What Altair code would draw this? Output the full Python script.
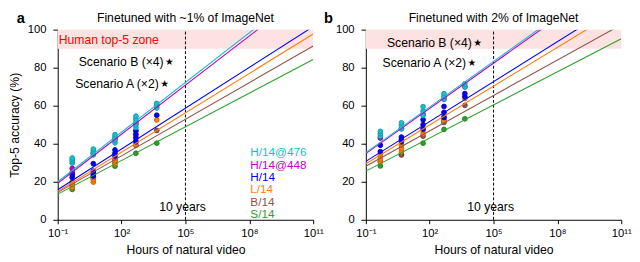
import altair as alt
import pandas as pd

FONT = "Liberation Sans"

# ---------------- data ----------------
models = ["S/14", "B/14", "L/14", "H/14", "H/14@448", "H/14@476"]
fill_colors = ["#2ca02c", "#8c564b", "#ff7f0e", "#0000ff", "#bf00bf", "#17becf"]
edge_colors = ["#1b7a1b", "#65382f", "#d06000", "#0000b0", "#8a008a", "#0f9aa8"]

hours = [0.48, 4.7, 49, 470, 4500]

# panel a (~1% of ImageNet): accuracy clusters at each hours value
acc_a_s14 = [[16.0], [22.0], [28.2], [35.0], [40.3]]
acc_a_b14 = [[18.0, 19.5], [22.5, 24.0], [30.0, 31.5], [39.2], [47.0]]
acc_a_l14 = [[17.0, 18.5, 20.0], [19.8, 21.0, 22.2], [29.5, 31.0, 32.2], [39.5, 41.5, 44.0, 46.5], [52.5]]
acc_a_h14 = [[22.2, 23.5, 24.8], [23.0, 24.5, 25.6, 29.5], [33.5, 35.0, 36.7], [41.0, 43.0, 45.0, 46.9], [55.0]]
acc_a_h448 = [[27.0], [35.0], [42.5], [50.5], [60.0]]
acc_a_h476 = [[29.8, 30.8, 31.6, 32.5], [34.1, 35.2, 36.2, 37.2], [40.5, 42.0, 43.5, 44.8],
              [48.5, 50.0, 51.5, 53.0, 54.5], [58.8, 60.3, 61.2]]

# panel b (2% of ImageNet)
acc_b_s14 = [[28.3], [34.4], [40.3], [47.5], [53.1]]
acc_b_b14 = [[30.6], [34.1], [44.0], [51.2, 52.6], [60.2]]
acc_b_l14 = [[30.5, 32.0, 33.5, 34.5], [35.8, 37.5, 39.2], [45.2, 47.0], [52.0, 54.5], [63.8]]
acc_b_h14 = [[35.8, 39.2], [41.0, 42.3, 43.5], [47.7, 50.0, 52.6], [53.8, 56.5, 59.6], [64.8, 66.4]]
acc_b_h448 = [[43.0], [48.0], [55.5], [63.5], [70.0]]
acc_b_h476 = [[44.0, 45.2, 46.5], [47.8, 49.5, 51.0], [54.8, 57.2, 59.5], [63.5, 65.0, 66.3], [69.8, 71.5]]

# fitted lines: accuracy at the two ends of the x range
line_hours = [0.1, 1e11]
fit_a = {"S/14": [13.5, 84.3], "B/14": [14.4, 91.4], "L/14": [14.9, 97.7],
         "H/14": [15.8, 101.6], "H/14@448": [19.2, 122.5], "H/14@476": [20.0, 124.5]}
fit_b = {"S/14": [25.6, 95.2], "B/14": [28.2, 102.6], "L/14": [29.5, 111.1],
         "H/14": [30.7, 114.7], "H/14@448": [34.8, 130.0], "H/14@476": [35.3, 131.3]}

# text legend (panel a)
legend_models = ["H/14@476", "H/14@448", "H/14", "L/14", "B/14", "S/14"]
legend_acc = [35.8, 29.0, 22.4, 16.1, 9.5, 3.0]
legend_hours = 1.12e8

# scenarios
scen_labels = ["Scenario B (\u00d74)", "Scenario A (\u00d72)"]
scen_a_hours = [1.78e4, 1.05e4]
scen_a_acc = [83.2, 71.5]
scen_b_hours = [1.8e4, 9.7e3]
scen_b_acc = [93.0, 82.5]
star_glyph = "\u2605"

# human zone & 10 years
zone_lo, zone_hi = 90, 100
human_label = "Human top-5 zone"
human_acc = 94.5
ten_years_hours = 1e5
ten_years_label = "10 years"
ten_years_acc = 6.8

x_ticks = [0.1, 100, 1e5, 1e8, 1e11]
x_tick_labels = ["10\u207b\u00b9", "10\u00b2", "10\u2075", "10\u2078", "10\u00b9\u00b9"]
y_ticks = [0, 20, 40, 60, 80, 100]

titles = ["Finetuned with ~1% of ImageNet", "Finetuned with 2% of ImageNet"]
letters = ["a", "b"]

# ---------------- chart ----------------
W, H = 262, 195

expr = f"'{x_tick_labels[-1]}'"
for v, l in reversed(list(zip(x_ticks[:-1], x_tick_labels[:-1]))):
    expr = f"datum.value <= {v * 1.5} ? '{l}' : ({expr})"

xscale = alt.Scale(type="log", domain=[0.1, 1e11])
yscale = alt.Scale(domain=[0, 100])
xaxis = alt.Axis(values=x_ticks, labelExpr=expr, tickSize=4, labelPadding=4,
                 titlePadding=5, grid=False, labelFlush=False)
yaxis = alt.Axis(values=y_ticks, tickSize=5, labelPadding=7, titlePadding=6, grid=False)

fill_scale = alt.Scale(domain=models, range=fill_colors)
edge_scale = alt.Scale(domain=models, range=edge_colors)


def X(f="x"):
    return alt.X(f"{f}:Q", scale=xscale, axis=xaxis, title="Hours of natural video")


def Y(f, show_title):
    if show_title:
        return alt.Y(f"{f}:Q", scale=yscale, axis=yaxis, title="Top-5 accuracy (%)")
    return alt.Y(f"{f}:Q", scale=yscale, axis=yaxis, title=None)


def panel(accs, fit, scen_h, scen_acc, title, letter, first):
    rows = []
    for m, acc in zip(models, accs):
        for h, vals in zip(hours, acc):
            for v in vals:
                rows.append({"model": m, "x": h, "y": v})
    pts = pd.DataFrame(rows)
    lines = pd.DataFrame([{"model": m, "x": h, "y": v}
                          for m in models for h, v in zip(line_hours, fit[m])])
    band = pd.DataFrame({"x": [line_hours[0]], "x2": [line_hours[1]], "y": [zone_lo], "y2": [zone_hi]})
    rule = pd.DataFrame({"x": [ten_years_hours], "y": [0], "y2": [100]})
    scen = pd.DataFrame({"x": scen_h, "y": scen_acc, "label": scen_labels,
                         "star": [star_glyph] * len(scen_h)})
    ten = pd.DataFrame({"x": [ten_years_hours], "y": [ten_years_acc], "label": [ten_years_label]})

    layers = [
        alt.Chart(band).mark_rect(color="#fde2e2").encode(x=X(), x2="x2:Q", y=Y("y", first), y2="y2:Q"),
        alt.Chart(rule).mark_rule(color="black", strokeDash=[3, 2], strokeWidth=1).encode(
            x=X(), y=Y("y", first), y2="y2:Q"),
        alt.Chart(pts).mark_circle(size=24, opacity=1, strokeWidth=0.9).encode(
            x=X(), y=Y("y", first),
            fill=alt.Fill("model:N", scale=fill_scale, legend=None),
            stroke=alt.Stroke("model:N", scale=edge_scale, legend=None)),
        alt.Chart(lines).mark_line(clip=True, strokeWidth=1.1).encode(
            x=X(), y=Y("y", first),
            color=alt.Color("model:N", scale=fill_scale, legend=None)),
        alt.Chart(scen).mark_text(align="center", baseline="middle", fontSize=10, color="black",
                                  font="DejaVu Sans").encode(
            x=X(), y=Y("y", first), text="star:N"),
        alt.Chart(scen).mark_text(align="right", baseline="middle", dx=-6, fontSize=12.5, color="black").encode(
            x=X(), y=Y("y", first), text="label:N"),
        alt.Chart(ten).mark_text(align="center", baseline="middle", dx=-3, fontSize=12.5, color="black").encode(
            x=X(), y=Y("y", first), text="label:N"),
        # panel letter and panel title drawn as text above the plot
        alt.Chart(pd.DataFrame({"t": [letter]})).mark_text(
            align="left", baseline="alphabetic", fontSize=15, fontWeight="bold", color="black").encode(
            x=alt.value(-42 if first else -43), y=alt.value(-7), text="t:N"),
        alt.Chart(pd.DataFrame({"t": [title]})).mark_text(
            align="center", baseline="alphabetic", fontSize=12.5, color="black").encode(
            x=alt.value(W / 2), y=alt.value(-8), text="t:N"),
    ]
    if first:
        hum = pd.DataFrame({"x": [line_hours[0]], "y": [human_acc], "label": [human_label]})
        leg = pd.DataFrame({"model": legend_models, "x": [legend_hours] * len(legend_models), "y": legend_acc})
        layers.append(alt.Chart(hum).mark_text(align="left", baseline="middle", dx=1, fontSize=12.5,
                                               color="#ff0000").encode(x=X(), y=Y("y", first), text="label:N"))
        layers.append(alt.Chart(leg).mark_text(align="left", baseline="middle", fontSize=12).encode(
            x=X(), y=Y("y", first), text="model:N",
            color=alt.Color("model:N", scale=fill_scale, legend=None)))
    return alt.layer(*layers).properties(width=W, height=H)


pa = panel([acc_a_s14, acc_a_b14, acc_a_l14, acc_a_h14, acc_a_h448, acc_a_h476],
           fit_a, scen_a_hours, scen_a_acc, titles[0], letters[0], True)
pb = panel([acc_b_s14, acc_b_b14, acc_b_l14, acc_b_h14, acc_b_h448, acc_b_h476],
           fit_b, scen_b_hours, scen_b_acc, titles[1], letters[1], False)

chart = alt.hconcat(pa, pb, spacing=0, padding=0).configure_view(strokeWidth=0).configure_axis(
    domainColor="black", tickColor="black", labelColor="black", titleColor="black",
    labelFont=FONT, titleFont=FONT, labelFontSize=11.5, titleFontSize=12.5,
    titleFontWeight="normal", domainWidth=1, tickWidth=1
).configure_text(font=FONT)

chart.save("out.html", embed_options={"renderer": "svg", "actions": False})
